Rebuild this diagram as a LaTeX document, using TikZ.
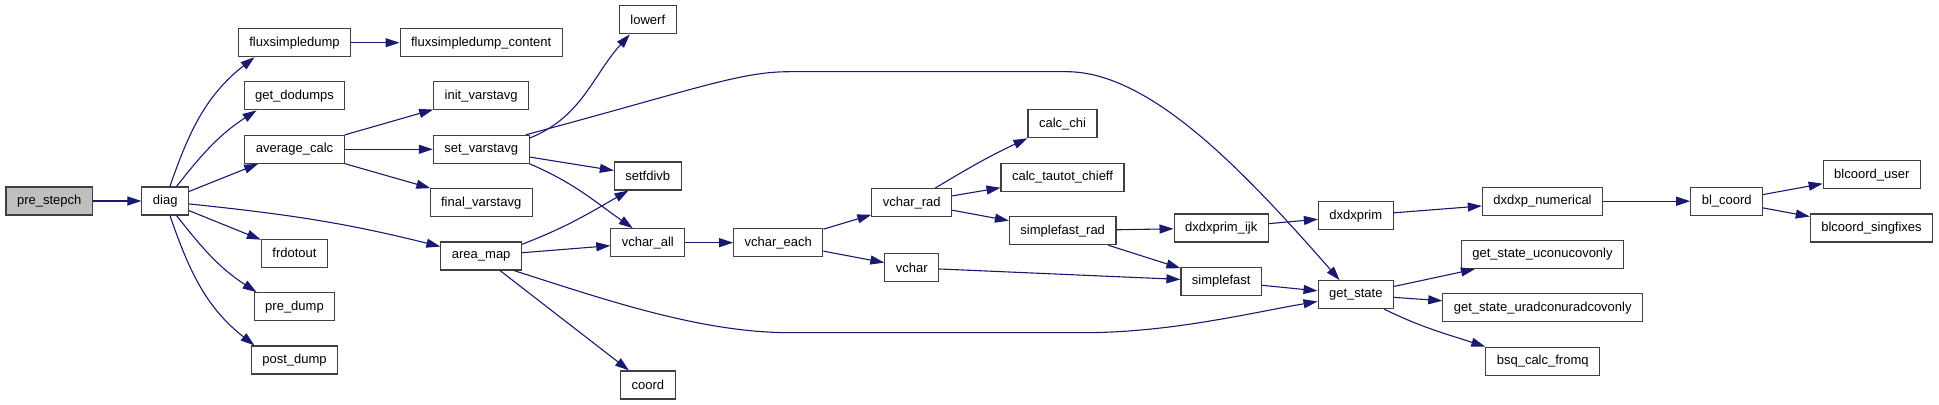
\documentclass[tikz,border=0pt]{standalone}
\usepackage{fontspec}
\setmainfont{Liberation Sans}
\definecolor{callblue}{RGB}{25,25,112}
\definecolor{rootgrey}{RGB}{191,191,191}
\usetikzlibrary{arrows.meta}

\begin{document}
\begin{tikzpicture}[x=0.5pt,y=0.5pt,
  fn/.style={draw=black!75,line width=0.55pt,fill=white,minimum height=14pt,inner xsep=5.5pt,inner ysep=0pt,font=\fontsize{6.5}{7}\selectfont},
  call/.style={draw=callblue,line width=0.55pt,-{Triangle[length=7pt,width=4.5pt]}}]
  \useasboundingbox (0,0) rectangle (1939,405);
  % call graph boxes
  \node[fn,fill=rootgrey] (prestepch) at (49.2,204) {pre\_stepch};
  \node[fn] (diag) at (165.2,204) {diag};
  \node[fn] (fsdump) at (294.5,362.3) {fluxsimpledump};
  \node[fn] (fsdumpcontent) at (481.2,362.3) {fluxsimpledump\_content};
  \node[fn] (getdodumps) at (294.5,309.2) {get\_dodumps};
  \node[fn] (avgcalc) at (294.5,255.7) {average\_calc};
  \node[fn] (frdotout) at (294.5,151.7) {frdotout};
  \node[fn] (predump) at (294.5,98.3) {pre\_dump};
  \node[fn] (postdump) at (294.5,45) {post\_dump};
  \node[fn] (initvarstavg) at (481.2,309.2) {init\_varstavg};
  \node[fn] (setvarstavg) at (481.2,255.7) {set\_varstavg};
  \node[fn] (finalvarstavg) at (481.2,202.3) {final\_varstavg};
  \node[fn] (areamap) at (481.2,149) {area\_map};
  \node[fn] (lowerf) at (647.8,385.2) {lowerf};
  \node[fn] (setfdivb) at (647.8,229) {setfdivb};
  \node[fn] (vcharall) at (647.8,162.3) {vchar\_all};
  \node[fn] (coord) at (647.8,20) {coord};
  \node[fn] (vchareach) at (778.3,162.3) {vchar\_each};
  \node[fn] (vcharrad) at (911.8,202.3) {vchar\_rad};
  \node[fn] (vchar) at (911.8,137.2) {vchar};
  \node[fn] (calcchi) at (1062.5,281.2) {calc\_chi};
  \node[fn] (calctautot) at (1062.5,227.7) {calc\_tautot\_chieff};
  \node[fn] (sfrad) at (1062.7,174.3) {simplefast\_rad};
  \node[fn] (dxijk) at (1221.2,177) {dxdxprim\_ijk};
  \node[fn] (simplefast) at (1221.2,123.8) {simplefast};
  \node[fn] (dxdxprim) at (1355.8,189.2) {dxdxprim};
  \node[fn] (getstate) at (1355.8,110.3) {get\_state};
  \node[fn] (dxnum) at (1542.5,203.8) {dxdxp\_numerical};
  \node[fn] (gsucon) at (1542.5,150.5) {get\_state\_uconucovonly};
  \node[fn] (gsurad) at (1542.7,97.2) {get\_state\_uradconuradcovonly};
  \node[fn] (bsq) at (1542.7,43.8) {bsq\_calc\_fromq};
  \node[fn] (blcoord) at (1726.7,203.8) {bl\_coord};
  \node[fn] (bluser) at (1871.8,230.3) {blcoord\_user};
  \node[fn] (blsing) at (1871.5,177) {blcoord\_singfixes};
  % calls
  \draw[call] (prestepch) -- (diag);
  \draw[call] (diag.72) to[out=71,in=218] (fsdump.200);
  \draw[call] (diag.52) to[out=52,in=213] (getdodumps.201);
  \draw[call] (diag) -- (avgcalc);
  \draw[call] (diag) -- (frdotout);
  \draw[call] (diag.-52) to[out=-52,in=147] (predump.159);
  \draw[call] (diag.-72) to[out=-71,in=142] (postdump.160);
  \draw[call] (diag.-7) to[out=-6,in=166] (areamap.167);
  \draw[call] (fsdump) -- (fsdumpcontent);
  \draw[call] (avgcalc) -- (initvarstavg);
  \draw[call] (avgcalc) -- (setvarstavg);
  \draw[call] (avgcalc) -- (finalvarstavg);
  \draw[call] (setvarstavg.13) to[out=22,in=228] (lowerf.219);
  \draw[call] (setvarstavg.18) .. controls (700,317) and (740,333.3) .. (790,333.3)
    -- (1066.7,333.3) .. controls (1151.7,333.3) and (1247.7,229.6) .. (getstate.138);
  \draw[call] (setvarstavg) -- (setfdivb);
  \draw[call] (setvarstavg.south east) to[out=-23,in=145] (vcharall.136);
  \draw[call] (areamap.16) to[out=21,in=210] (setfdivb.217);
  \draw[call] (areamap) -- (vcharall);
  \draw[call] (areamap) -- (coord);
  \draw[call] (areamap.-24) .. controls (603,106) and (700,72.3) .. (790,72.3)
    -- (1083,72.3) .. controls (1170,72.3) and (1250,92) .. (getstate.190);
  \draw[call] (vcharall) -- (vchareach);
  \draw[call] (vchareach) -- (vcharrad);
  \draw[call] (vchareach) -- (vchar);
  \draw[call] (vcharrad.32) to[out=31,in=205] (calcchi.south west);
  \draw[call] (vcharrad) -- (calctautot);
  \draw[call] (vcharrad) -- (sfrad);
  \draw[call] (sfrad) -- (dxijk);
  \draw[call] (sfrad) -- (simplefast);
  \draw[call] (vchar) -- (simplefast);
  \draw[call] (dxijk) -- (dxdxprim);
  \draw[call] (dxdxprim) -- (dxnum);
  \draw[call] (dxnum) -- (blcoord);
  \draw[call] (blcoord) -- (bluser);
  \draw[call] (blcoord) -- (blsing);
  \draw[call] (simplefast) -- (getstate);
  \draw[call] (getstate) -- (gsucon);
  \draw[call] (getstate) -- (gsurad);
  \draw[call] (getstate.-27) to[out=-26,in=162] (bsq.north west);
\end{tikzpicture}
\end{document}
